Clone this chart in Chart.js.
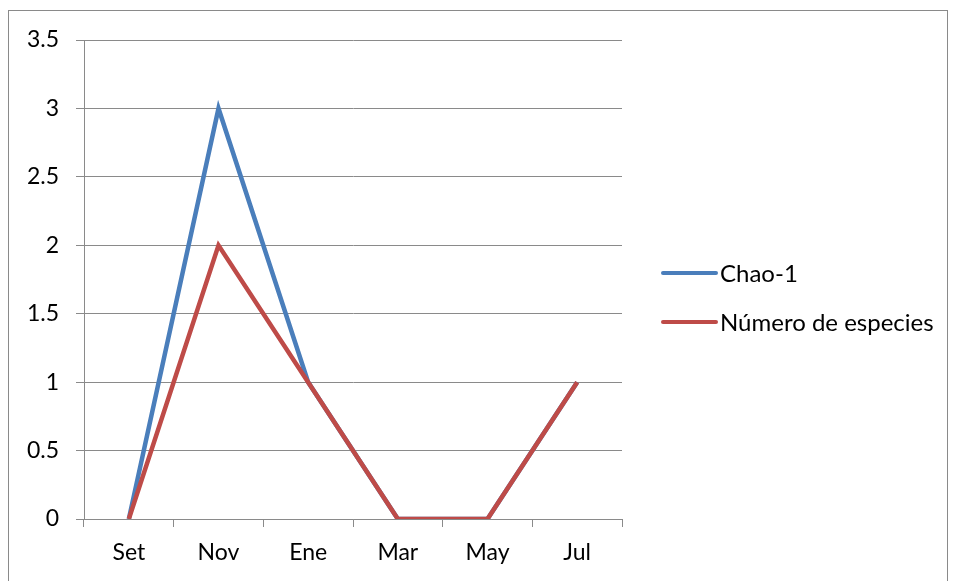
<!DOCTYPE html>
<html>
<head>
    <meta charset="utf-8">
    <title>Chao-1 vs Número de especies</title>
    <script src="https://cdn.jsdelivr.net/npm/chart.js"></script>
    <style>
        body {
            margin: 0;
            background: #fff;
        }
        #wrap {
            position: relative;
            width: 958px;
            height: 581px;
        }
        #frame {
            position: absolute;
            left: 8px;
            top: 10px;
            width: 938px;
            height: 600px;
            border: 1px solid #8a8a8a;
        }
        canvas {
            position: absolute;
            left: 0;
            top: 0;
        }
    </style>
</head>
<body>
    <div id="wrap">
        <div id="frame"></div>
        <canvas id="chart" width="958" height="581"></canvas>
    </div>

    <script>
        const months = ['Set', 'Nov', 'Ene', 'Mar', 'May', 'Jul'];
        const chao1 = [0, 3, 1, 0, 0, 1];
        const especies = [0, 2, 1, 0, 0, 1];

        const FONT = 'Lato, "Open Sans", sans-serif';
        const GRID = '#8a8a8a';

        // legend drawn to the right like the spreadsheet one
        const sideLegend = {
            id: 'sideLegend',
            afterDraw(chart) {
                const c = chart.ctx;
                const rows = [273, 322];
                c.save();
                chart.data.datasets.forEach((ds, i) => {
                    const y = rows[i];
                    c.strokeStyle = ds.borderColor;
                    c.lineWidth = 4;
                    c.lineCap = 'round';
                    c.beginPath();
                    c.moveTo(663, y);
                    c.lineTo(716, y);
                    c.stroke();
                    c.fillStyle = '#000';
                    c.font = '24px ' + FONT;
                    c.textBaseline = 'middle';
                    c.fillText(ds.label, 720, y + 1);
                });
                c.restore();
            }
        };

        new Chart(document.getElementById('chart'), {
            type: 'line',
            data: {
                labels: months,
                datasets: [
                    {
                        label: 'Chao-1',
                        data: chao1,
                        borderColor: '#4a7ebb',
                        borderWidth: 4.5,
                        pointRadius: 0,
                        tension: 0,
                        fill: false,
                        order: 1
                    },
                    {
                        label: 'Número de especies',
                        data: especies,
                        borderColor: '#be4b48',
                        borderWidth: 4.5,
                        pointRadius: 0,
                        tension: 0,
                        fill: false,
                        order: 0
                    }
                ]
            },
            options: {
                responsive: false,
                animation: false,
                layout: { padding: { left: 0, top: 40, right: 336, bottom: 0 } },
                plugins: {
                    legend: { display: false },
                    tooltip: { enabled: false }
                },
                scales: {
                    x: {
                        offset: true,
                        afterFit(scale) { scale.height = 62; },
                        grid: {
                            offset: true,
                            drawOnChartArea: false,
                            drawTicks: true,
                            tickLength: 8,
                            color: GRID
                        },
                        border: { color: GRID, width: 1 },
                        ticks: {
                            color: '#000',
                            padding: 12,
                            font: { family: FONT, size: 23 }
                        }
                    },
                    y: {
                        min: 0,
                        max: 3.5,
                        afterFit(scale) { scale.width = 84; },
                        grid: {
                            color: GRID,
                            tickLength: 8,
                            drawTicks: true
                        },
                        border: { color: GRID, width: 1 },
                        ticks: {
                            stepSize: 0.5,
                            color: '#000',
                            padding: 17,
                            font: { family: FONT, size: 23 },
                            callback: v => String(v)
                        }
                    }
                }
            },
            plugins: [sideLegend]
        });
    </script>
</body>
</html>
